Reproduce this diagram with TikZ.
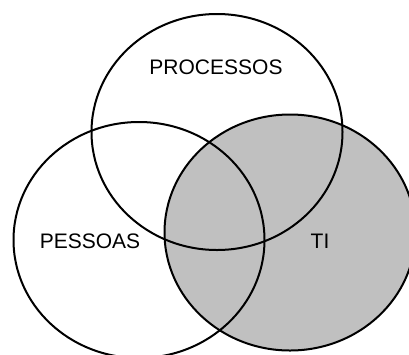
\documentclass[tikz,border=0pt]{standalone}
\usepackage{fontspec}
\setmainfont{Liberation Sans}
\usetikzlibrary{shapes.geometric}
\definecolor{tigray}{HTML}{C0C0C0}
\begin{document}
\begin{tikzpicture}[x=1pt,y=-1pt,
  setbox/.style={ellipse, minimum width=251pt, minimum height=236pt, inner sep=0pt, outer sep=0pt, line width=2pt},
  setlabel/.style={font=\fontsize{21}{25}\selectfont, inner sep=0pt}]
  \useasboundingbox (0,0) rectangle (409,354);
  \clip (0,0) rectangle (409,354);
  % shaded set first, then every outline on top
  \node[setbox, fill=tigray] (ti) at (290,232.5) {};
  \node[setbox, draw] (processos) at (217,132) {};
  \node[setbox, draw] (pessoas) at (139,240) {};
  \node[setbox, draw] at (ti.center) {};
  \node[setlabel] (lprocessos) at (216,67) {PROCESSOS};
  \node[setlabel] (lpessoas) at (90,241) {PESSOAS};
  \node[setlabel] (lti) at (320,241) {TI};
\end{tikzpicture}
\end{document}
